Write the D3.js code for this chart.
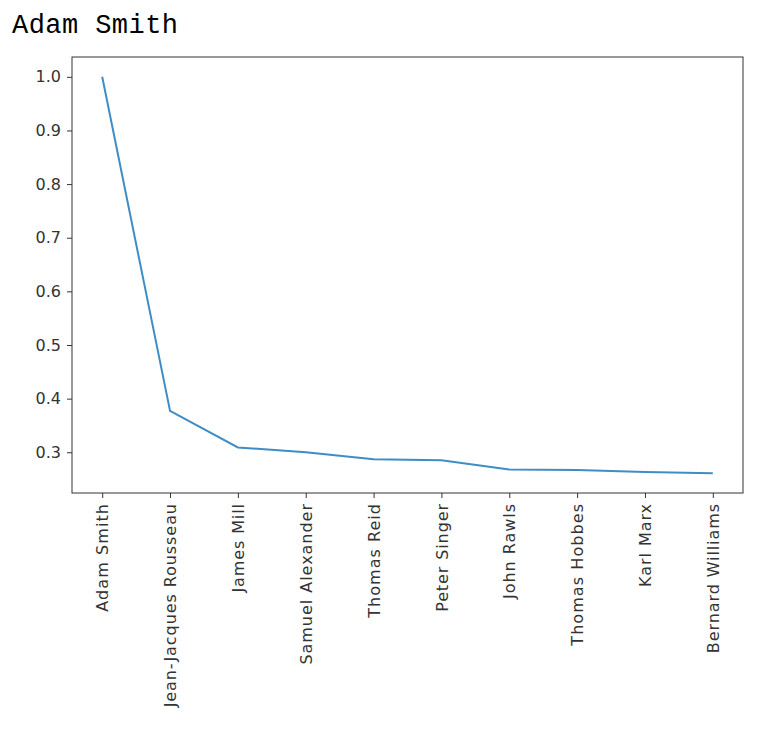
<!DOCTYPE html>
<html><head><meta charset="utf-8">
<script src="https://cdn.jsdelivr.net/npm/d3@7"></script>
<style>body{margin:0;background:#fff}</style>
</head><body>
<svg id="c" width="772" height="750"></svg>
<script>
const categories = ["Adam Smith","Jean-Jacques Rousseau","James Mill","Samuel Alexander","Thomas Reid","Peter Singer","John Rawls","Thomas Hobbes","Karl Marx","Bernard Williams"];
const values = [1.0,0.377,0.309,0.300,0.287,0.285,0.268,0.267,0.263,0.261];
const yTicks = [0.3,0.4,0.5,0.6,0.7,0.8,0.9,1.0];
const title = "Adam Smith";

const svg = d3.select("#c");
const L=72,R=743,T=57,B=493;
const n=categories.length, step=(R-L)/((n-1)/0.9);
const x = d3.scalePoint().domain(categories)
  .range([L+0.05*(n-1)*step, R-0.05*(n-1)*step]).padding(0);
const ymin=d3.min(values), ymax=d3.max(values), pad=(ymax-ymin)*0.05;
const y = d3.scaleLinear().domain([ymin-pad,ymax+pad]).range([B,T]);

svg.append("text").attr("x",12).attr("y",33).attr("font-family","'Liberation Mono','DejaVu Sans Mono',monospace")
  .attr("font-size",27).attr("textLength",166).attr("fill","#000").text(title);

const font="'DejaVu Sans',sans-serif";
const ya = svg.append("g").attr("transform",`translate(${L},0)`)
  .call(d3.axisLeft(y).tickValues(yTicks).tickFormat(d3.format(".1f")).tickSize(5).tickPadding(6));
const xa = svg.append("g").attr("transform",`translate(0,${B})`)
  .call(d3.axisBottom(x).tickSize(5).tickPadding(6));
[ya,xa].forEach(a=>{a.select(".domain").remove();a.selectAll("line").attr("stroke","#333");
  a.selectAll("text").attr("font-family",font).attr("font-size",16).attr("fill","#333");});
xa.selectAll("text").attr("transform","rotate(-90)").attr("text-anchor","end")
  .attr("x",-11).attr("y",0).attr("dy","0.35em")
  .attr("textLength",function(){return this.getComputedTextLength()*1.1;});

svg.append("rect").attr("x",L).attr("y",T).attr("width",R-L).attr("height",B-T)
  .attr("fill","none").attr("stroke","#333").attr("stroke-width",1);

svg.append("path").datum(values)
  .attr("d",d3.line().x((d,i)=>x(categories[i])).y(d=>y(d)))
  .attr("fill","none").attr("stroke","#3f8dc6").attr("stroke-width",2);
</script>
</body></html>
